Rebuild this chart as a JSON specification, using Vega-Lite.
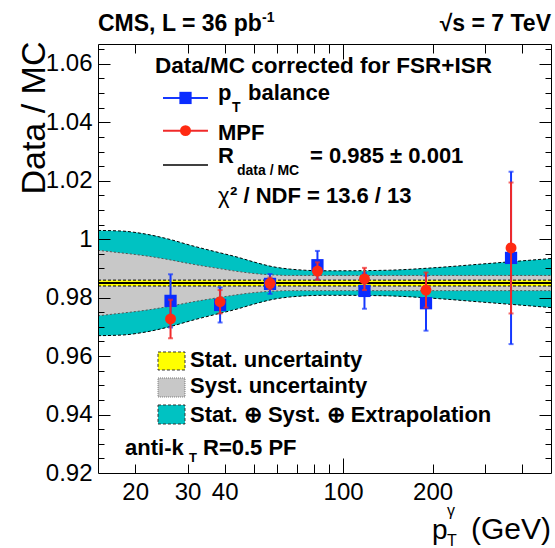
{
  "$schema": "https://vega.github.io/schema/vega-lite/v6.json",
  "width": 453,
  "height": 429,
  "autosize": {"type": "none"},
  "padding": {"left": 98, "top": 44, "right": 4, "bottom": 75},
  "background": "white",
  "config": {"view": {"stroke": null}, "font": "Liberation Sans"},
  "datasets": {
    "bands": [
      {"pt": 15, "tot_lo": 0.9670, "tot_hi": 1.0030, "syst_lo": 0.9738, "syst_hi": 0.9962, "stat_lo": 0.984, "stat_hi": 0.986, "fit": 0.985},
      {"pt": 18, "tot_lo": 0.9672, "tot_hi": 1.0028, "syst_lo": 0.9747, "syst_hi": 0.9953, "stat_lo": 0.984, "stat_hi": 0.986, "fit": 0.985},
      {"pt": 21, "tot_lo": 0.9680, "tot_hi": 1.0020, "syst_lo": 0.9755, "syst_hi": 0.9945, "stat_lo": 0.984, "stat_hi": 0.986, "fit": 0.985},
      {"pt": 26, "tot_lo": 0.9700, "tot_hi": 1.0000, "syst_lo": 0.9770, "syst_hi": 0.9930, "stat_lo": 0.984, "stat_hi": 0.986, "fit": 0.985},
      {"pt": 31, "tot_lo": 0.9722, "tot_hi": 0.9978, "syst_lo": 0.9785, "syst_hi": 0.9915, "stat_lo": 0.984, "stat_hi": 0.986, "fit": 0.985},
      {"pt": 37, "tot_lo": 0.9742, "tot_hi": 0.9958, "syst_lo": 0.9798, "syst_hi": 0.9902, "stat_lo": 0.984, "stat_hi": 0.986, "fit": 0.985},
      {"pt": 44, "tot_lo": 0.9761, "tot_hi": 0.9939, "syst_lo": 0.9810, "syst_hi": 0.9890, "stat_lo": 0.984, "stat_hi": 0.986, "fit": 0.985},
      {"pt": 51, "tot_lo": 0.9780, "tot_hi": 0.9920, "syst_lo": 0.9818, "syst_hi": 0.9882, "stat_lo": 0.984, "stat_hi": 0.986, "fit": 0.985},
      {"pt": 58, "tot_lo": 0.9794, "tot_hi": 0.9906, "syst_lo": 0.9822, "syst_hi": 0.9878, "stat_lo": 0.984, "stat_hi": 0.986, "fit": 0.985},
      {"pt": 66, "tot_lo": 0.9802, "tot_hi": 0.9898, "syst_lo": 0.9824, "syst_hi": 0.9876, "stat_lo": 0.984, "stat_hi": 0.986, "fit": 0.985},
      {"pt": 74, "tot_lo": 0.9806, "tot_hi": 0.9894, "syst_lo": 0.9824, "syst_hi": 0.9876, "stat_lo": 0.984, "stat_hi": 0.986, "fit": 0.985},
      {"pt": 86, "tot_lo": 0.9808, "tot_hi": 0.9892, "syst_lo": 0.9824, "syst_hi": 0.9876, "stat_lo": 0.984, "stat_hi": 0.986, "fit": 0.985},
      {"pt": 100, "tot_lo": 0.9808, "tot_hi": 0.9892, "syst_lo": 0.9824, "syst_hi": 0.9876, "stat_lo": 0.984, "stat_hi": 0.986, "fit": 0.985},
      {"pt": 143, "tot_lo": 0.9806, "tot_hi": 0.9894, "syst_lo": 0.9824, "syst_hi": 0.9876, "stat_lo": 0.984, "stat_hi": 0.986, "fit": 0.985},
      {"pt": 200, "tot_lo": 0.9798, "tot_hi": 0.9902, "syst_lo": 0.9824, "syst_hi": 0.9876, "stat_lo": 0.984, "stat_hi": 0.986, "fit": 0.985},
      {"pt": 300, "tot_lo": 0.9784, "tot_hi": 0.9916, "syst_lo": 0.9824, "syst_hi": 0.9876, "stat_lo": 0.984, "stat_hi": 0.986, "fit": 0.985},
      {"pt": 400, "tot_lo": 0.9774, "tot_hi": 0.9926, "syst_lo": 0.9824, "syst_hi": 0.9876, "stat_lo": 0.984, "stat_hi": 0.986, "fit": 0.985},
      {"pt": 500, "tot_lo": 0.9766, "tot_hi": 0.9934, "syst_lo": 0.9824, "syst_hi": 0.9876, "stat_lo": 0.984, "stat_hi": 0.986, "fit": 0.985}
    ],
    "points": [
      {"pt": 26.3, "method": "pT balance", "r": 0.9789, "lo": 0.9698, "hi": 0.9880},
      {"pt": 38.6, "method": "pT balance", "r": 0.9775, "lo": 0.9715, "hi": 0.9835},
      {"pt": 56.8, "method": "pT balance", "r": 0.9847, "lo": 0.9813, "hi": 0.9881},
      {"pt": 82, "method": "pT balance", "r": 0.9911, "lo": 0.9862, "hi": 0.9960},
      {"pt": 118, "method": "pT balance", "r": 0.9823, "lo": 0.9762, "hi": 0.9884},
      {"pt": 190, "method": "pT balance", "r": 0.9781, "lo": 0.9687, "hi": 0.9875},
      {"pt": 367, "method": "pT balance", "r": 0.9936, "lo": 0.9641, "hi": 1.0231},
      {"pt": 26.3, "method": "MPF", "r": 0.9727, "lo": 0.9661, "hi": 0.9793},
      {"pt": 38.6, "method": "MPF", "r": 0.9786, "lo": 0.9746, "hi": 0.9826},
      {"pt": 56.8, "method": "MPF", "r": 0.9849, "lo": 0.9829, "hi": 0.9869},
      {"pt": 82, "method": "MPF", "r": 0.9891, "lo": 0.9861, "hi": 0.9921},
      {"pt": 118, "method": "MPF", "r": 0.9864, "lo": 0.9826, "hi": 0.9902},
      {"pt": 190, "method": "MPF", "r": 0.9826, "lo": 0.9766, "hi": 0.9886},
      {"pt": 367, "method": "MPF", "r": 0.9970, "lo": 0.9746, "hi": 1.0194}
    ]
  },
  "resolve": {"axis": {"x": "independent", "y": "independent"}},
  "layer": [
    {
      "data": {"name": "bands"},
      "mark": {"type": "area", "color": "#00c2c2", "interpolate": "monotone"},
      "encoding": {
        "x": {"field": "pt", "type": "quantitative", "scale": {"type": "log", "domain": [15, 500], "nice": false},
          "axis": {"orient": "bottom", "values": [20, 30, 40, 50, 60, 70, 80, 90, 200, 300, 400], "labels": false, "tickSize": -9, "tickColor": "black", "tickWidth": 1, "domain": true, "domainColor": "black", "domainWidth": 1, "grid": false, "title": null, "zindex": 1}},
        "y": {"field": "tot_lo", "type": "quantitative", "scale": {"domain": [0.92, 1.0668], "nice": false, "zero": false},
          "axis": {"orient": "left", "values": [0.925, 0.93, 0.935, 0.945, 0.95, 0.955, 0.965, 0.97, 0.975, 0.985, 0.99, 0.995, 1.005, 1.01, 1.015, 1.025, 1.03, 1.035, 1.045, 1.05, 1.055, 1.065], "labels": false, "tickSize": -6, "tickColor": "black", "tickWidth": 1, "domain": true, "domainColor": "black", "domainWidth": 1, "grid": false, "title": null, "zindex": 1}},
        "y2": {"field": "tot_hi"}
      }
    },
    {
      "data": {"name": "bands"},
      "mark": {"type": "area", "color": "#c8c8c8", "interpolate": "monotone"},
      "encoding": {
        "x": {"field": "pt", "type": "quantitative", "scale": {"type": "log", "domain": [15, 500], "nice": false},
          "axis": {"orient": "top", "values": [20, 30, 40, 50, 60, 70, 80, 90, 200, 300, 400], "labels": false, "tickSize": -9, "tickColor": "black", "tickWidth": 1, "domain": true, "domainColor": "black", "domainWidth": 1, "grid": false, "title": null, "zindex": 1}},
        "y": {"field": "syst_lo", "type": "quantitative", "scale": {"domain": [0.92, 1.0668], "nice": false, "zero": false},
          "axis": {"orient": "right", "values": [0.925, 0.93, 0.935, 0.945, 0.95, 0.955, 0.965, 0.97, 0.975, 0.985, 0.99, 0.995, 1.005, 1.01, 1.015, 1.025, 1.03, 1.035, 1.045, 1.05, 1.055, 1.065], "labels": false, "tickSize": -6, "tickColor": "black", "tickWidth": 1, "domain": true, "domainColor": "black", "domainWidth": 1, "grid": false, "title": null, "zindex": 1}},
        "y2": {"field": "syst_hi"}
      }
    },
    {
      "data": {"name": "bands"},
      "mark": {"type": "area", "color": "#ffff00"},
      "encoding": {
        "x": {"field": "pt", "type": "quantitative", "scale": {"type": "log", "domain": [15, 500], "nice": false},
          "axis": {"orient": "bottom", "values": [100], "labels": false, "tickSize": -15, "tickColor": "black", "tickWidth": 1, "domain": false, "grid": false, "title": null, "zindex": 1}},
        "y": {"field": "stat_lo", "type": "quantitative", "scale": {"domain": [0.92, 1.0668], "nice": false, "zero": false},
          "axis": {"orient": "left", "values": [0.94, 0.96, 0.98, 1.0, 1.02, 1.04, 1.06], "labels": false, "tickSize": -12, "tickColor": "black", "tickWidth": 1, "domain": false, "grid": false, "title": null, "zindex": 1}},
        "y2": {"field": "stat_hi"}
      }
    },
    {
      "data": {"name": "bands"},
      "mark": {"type": "line", "color": "black", "strokeWidth": 2},
      "encoding": {
        "x": {"field": "pt", "type": "quantitative", "scale": {"type": "log", "domain": [15, 500], "nice": false},
          "axis": {"orient": "top", "values": [100], "labels": false, "tickSize": -15, "tickColor": "black", "tickWidth": 1, "domain": false, "grid": false, "title": null, "zindex": 1}},
        "y": {"field": "fit", "type": "quantitative", "scale": {"domain": [0.92, 1.0668], "nice": false, "zero": false},
          "axis": {"orient": "right", "values": [0.94, 0.96, 0.98, 1.0, 1.02, 1.04, 1.06], "labels": false, "tickSize": -12, "tickColor": "black", "tickWidth": 1, "domain": false, "grid": false, "title": null, "zindex": 1}}
      }
    },
    {
      "data": {"name": "bands"},
      "mark": {"type": "line", "color": "black", "strokeWidth": 1, "strokeDash": [3, 2], "interpolate": "monotone"},
      "encoding": {
        "x": {"field": "pt", "type": "quantitative", "scale": {"type": "log", "domain": [15, 500], "nice": false}, "axis": null},
        "y": {"field": "tot_lo", "type": "quantitative", "scale": {"domain": [0.92, 1.0668], "nice": false, "zero": false}, "axis": null}
      }
    },
    {
      "data": {"name": "bands"},
      "mark": {"type": "line", "color": "black", "strokeWidth": 1, "strokeDash": [3, 2], "interpolate": "monotone"},
      "encoding": {
        "x": {"field": "pt", "type": "quantitative", "scale": {"type": "log", "domain": [15, 500], "nice": false}, "axis": null},
        "y": {"field": "tot_hi", "type": "quantitative", "scale": {"domain": [0.92, 1.0668], "nice": false, "zero": false}, "axis": null}
      }
    },
    {
      "data": {"name": "bands"},
      "mark": {"type": "line", "color": "#555555", "strokeWidth": 1, "strokeDash": [2, 2], "interpolate": "monotone"},
      "encoding": {
        "x": {"field": "pt", "type": "quantitative", "scale": {"type": "log", "domain": [15, 500], "nice": false}, "axis": null},
        "y": {"field": "syst_lo", "type": "quantitative", "scale": {"domain": [0.92, 1.0668], "nice": false, "zero": false}, "axis": null}
      }
    },
    {
      "data": {"name": "bands"},
      "mark": {"type": "line", "color": "#555555", "strokeWidth": 1, "strokeDash": [2, 2], "interpolate": "monotone"},
      "encoding": {
        "x": {"field": "pt", "type": "quantitative", "scale": {"type": "log", "domain": [15, 500], "nice": false}, "axis": null},
        "y": {"field": "syst_hi", "type": "quantitative", "scale": {"domain": [0.92, 1.0668], "nice": false, "zero": false}, "axis": null}
      }
    },
    {
      "data": {"name": "bands"},
      "mark": {"type": "line", "color": "black", "strokeWidth": 1, "strokeDash": [3, 2]},
      "encoding": {
        "x": {"field": "pt", "type": "quantitative", "scale": {"type": "log", "domain": [15, 500], "nice": false}, "axis": null},
        "y": {"field": "stat_lo", "type": "quantitative", "scale": {"domain": [0.92, 1.0668], "nice": false, "zero": false}, "axis": null}
      }
    },
    {
      "data": {"name": "bands"},
      "mark": {"type": "line", "color": "black", "strokeWidth": 1, "strokeDash": [3, 2]},
      "encoding": {
        "x": {"field": "pt", "type": "quantitative", "scale": {"type": "log", "domain": [15, 500], "nice": false}, "axis": null},
        "y": {"field": "stat_hi", "type": "quantitative", "scale": {"domain": [0.92, 1.0668], "nice": false, "zero": false}, "axis": null}
      }
    },
    {
      "data": {"name": "points"},
      "transform": [{"filter": "datum.method === 'pT balance'"}],
      "mark": {"type": "errorbar", "color": "#1538ff", "thickness": 2, "ticks": {"size": 5, "thickness": 2}},
      "encoding": {
        "x": {"field": "pt", "type": "quantitative", "scale": {"type": "log", "domain": [15, 500], "nice": false}, "axis": null},
        "y": {"field": "lo", "type": "quantitative", "scale": {"domain": [0.92, 1.0668], "nice": false, "zero": false}, "axis": null},
        "y2": {"field": "hi"}
      }
    },
    {
      "data": {"name": "points"},
      "transform": [{"filter": "datum.method === 'pT balance'"}],
      "mark": {"type": "square", "color": "#0a2cff", "filled": true, "size": 150, "opacity": 1},
      "encoding": {
        "x": {"field": "pt", "type": "quantitative", "scale": {"type": "log", "domain": [15, 500], "nice": false},
          "axis": {"orient": "bottom", "values": [20, 30, 40, 100, 200], "ticks": false, "tickSize": 0, "domain": false, "grid": false, "labels": true, "labelFont": "Liberation Sans", "labelFontSize": 24, "labelColor": "black", "labelPadding": 7, "labelFlush": false, "labelOverlap": false, "title": null}},
        "y": {"field": "r", "type": "quantitative", "scale": {"domain": [0.92, 1.0668], "nice": false, "zero": false},
          "axis": {"orient": "left", "values": [0.92, 0.94, 0.96, 0.98, 1.0, 1.02, 1.04, 1.06], "ticks": false, "tickSize": 0, "domain": false, "grid": false, "labels": true, "labelExpr": "abs(datum.value - 1) < 0.0001 ? '1' : format(datum.value, '.2f')", "labelFont": "Liberation Sans", "labelFontSize": 24, "labelColor": "black", "labelPadding": 6, "labelFlush": false, "labelOverlap": false,
            "title": "Data / MC", "titleFont": "Liberation Sans", "titleFontSize": 34, "titleFontWeight": "normal", "titleColor": "black", "titleAngle": -90, "titleAlign": "right", "titleBaseline": "alphabetic", "titleX": -54, "titleY": -3}}
      }
    },
    {
      "data": {"name": "points"},
      "transform": [{"filter": "datum.method === 'MPF'"}],
      "mark": {"type": "errorbar", "color": "#f02a2a", "thickness": 2, "ticks": {"size": 5, "thickness": 2}},
      "encoding": {
        "x": {"field": "pt", "type": "quantitative", "scale": {"type": "log", "domain": [15, 500], "nice": false}, "axis": null},
        "y": {"field": "lo", "type": "quantitative", "scale": {"domain": [0.92, 1.0668], "nice": false, "zero": false}, "axis": null},
        "y2": {"field": "hi"}
      }
    },
    {
      "data": {"name": "points"},
      "transform": [{"filter": "datum.method === 'MPF'"}],
      "mark": {"type": "circle", "color": "#ff2a12", "size": 120, "opacity": 1},
      "encoding": {
        "x": {"field": "pt", "type": "quantitative", "scale": {"type": "log", "domain": [15, 500], "nice": false}, "axis": null},
        "y": {"field": "r", "type": "quantitative", "scale": {"domain": [0.92, 1.0668], "nice": false, "zero": false}, "axis": null}
      }
    },
    {
      "data": {"values": [{}]},
      "mark": {"type": "rule", "color": "#1538ff", "strokeWidth": 2},
      "encoding": {
        "x": {"datum": 24.81, "type": "quantitative", "scale": {"type": "log", "domain": [15, 500], "nice": false}, "axis": null},
        "x2": {"datum": 35.14},
        "y": {"datum": 1.04834, "type": "quantitative", "scale": {"domain": [0.92, 1.0668], "nice": false, "zero": false}, "axis": null}
      }
    },
    {
      "data": {"values": [{}]},
      "mark": {"type": "square", "color": "#0a2cff", "filled": true, "size": 150, "opacity": 1},
      "encoding": {
        "x": {"datum": 29.53, "type": "quantitative", "scale": {"type": "log", "domain": [15, 500], "nice": false}, "axis": null},
        "y": {"datum": 1.04834, "type": "quantitative", "scale": {"domain": [0.92, 1.0668], "nice": false, "zero": false}, "axis": null}
      }
    },
    {
      "data": {"values": [{}]},
      "mark": {"type": "rule", "color": "#f02a2a", "strokeWidth": 2},
      "encoding": {
        "x": {"datum": 24.81, "type": "quantitative", "scale": {"type": "log", "domain": [15, 500], "nice": false}, "axis": null},
        "x2": {"datum": 35.14},
        "y": {"datum": 1.03715, "type": "quantitative", "scale": {"domain": [0.92, 1.0668], "nice": false, "zero": false}, "axis": null}
      }
    },
    {
      "data": {"values": [{}]},
      "mark": {"type": "circle", "color": "#ff2a12", "size": 120, "opacity": 1},
      "encoding": {
        "x": {"datum": 29.53, "type": "quantitative", "scale": {"type": "log", "domain": [15, 500], "nice": false}, "axis": null},
        "y": {"datum": 1.03715, "type": "quantitative", "scale": {"domain": [0.92, 1.0668], "nice": false, "zero": false}, "axis": null}
      }
    },
    {
      "data": {"values": [{}]},
      "mark": {"type": "rule", "color": "black", "strokeWidth": 1.5},
      "encoding": {
        "x": {"datum": 24.81, "type": "quantitative", "scale": {"type": "log", "domain": [15, 500], "nice": false}, "axis": null},
        "x2": {"datum": 35.14},
        "y": {"datum": 1.02541, "type": "quantitative", "scale": {"domain": [0.92, 1.0668], "nice": false, "zero": false}, "axis": null}
      }
    },
    {
      "data": {"values": [{}]},
      "mark": {"type": "rect", "fill": "#ffff00", "stroke": "#333333", "strokeWidth": 1, "strokeDash": [3, 2]},
      "encoding": {
        "x": {"datum": 23.87, "type": "quantitative", "scale": {"type": "log", "domain": [15, 500], "nice": false}, "axis": null},
        "x2": {"datum": 29.41},
        "y": {"datum": 0.96141, "type": "quantitative", "scale": {"domain": [0.92, 1.0668], "nice": false, "zero": false}, "axis": null},
        "y2": {"datum": 0.95525}
      }
    },
    {
      "data": {"values": [{}]},
      "mark": {"type": "rect", "fill": "#c8c8c8", "stroke": "#777777", "strokeWidth": 1, "strokeDash": [1, 1]},
      "encoding": {
        "x": {"datum": 23.87, "type": "quantitative", "scale": {"type": "log", "domain": [15, 500], "nice": false}, "axis": null},
        "x2": {"datum": 29.41},
        "y": {"datum": 0.95251, "type": "quantitative", "scale": {"domain": [0.92, 1.0668], "nice": false, "zero": false}, "axis": null},
        "y2": {"datum": 0.94601}
      }
    },
    {
      "data": {"values": [{}]},
      "mark": {"type": "rect", "fill": "#00c2c2", "stroke": "#333333", "strokeWidth": 1, "strokeDash": [3, 2]},
      "encoding": {
        "x": {"datum": 23.87, "type": "quantitative", "scale": {"type": "log", "domain": [15, 500], "nice": false}, "axis": null},
        "x2": {"datum": 29.41},
        "y": {"datum": 0.94327, "type": "quantitative", "scale": {"domain": [0.92, 1.0668], "nice": false, "zero": false}, "axis": null},
        "y2": {"datum": 0.93677}
      }
    },
    {
      "data": {"values": [{}]},
      "mark": {"type": "text", "text": "CMS, L = 36 pb", "align": "left", "baseline": "alphabetic", "font": "Liberation Sans", "fontSize": 23, "fontWeight": "bold", "color": "black"},
      "encoding": {
        "x": {"datum": 15, "type": "quantitative", "scale": {"type": "log", "domain": [15, 500], "nice": false}, "axis": null},
        "y": {"datum": 1.07127, "type": "quantitative", "scale": {"domain": [0.92, 1.0668], "nice": false, "zero": false}, "axis": null}
      }
    },
    {
      "data": {"values": [{}]},
      "mark": {"type": "text", "text": "-1", "align": "left", "baseline": "alphabetic", "font": "Liberation Sans", "fontSize": 14, "fontWeight": "bold", "color": "black"},
      "encoding": {
        "x": {"datum": 53.4, "type": "quantitative", "scale": {"type": "log", "domain": [15, 500], "nice": false}, "axis": null},
        "y": {"datum": 1.07435, "type": "quantitative", "scale": {"domain": [0.92, 1.0668], "nice": false, "zero": false}, "axis": null}
      }
    },
    {
      "data": {"values": [{}]},
      "mark": {"type": "text", "text": "√s = 7 TeV", "align": "right", "baseline": "alphabetic", "font": "Liberation Sans", "fontSize": 23, "fontWeight": "bold", "color": "black"},
      "encoding": {
        "x": {"datum": 500, "type": "quantitative", "scale": {"type": "log", "domain": [15, 500], "nice": false}, "axis": null},
        "y": {"datum": 1.07127, "type": "quantitative", "scale": {"domain": [0.92, 1.0668], "nice": false, "zero": false}, "axis": null}
      }
    },
    {
      "data": {"values": [{}]},
      "mark": {"type": "text", "text": "Data/MC corrected for FSR+ISR", "align": "left", "baseline": "alphabetic", "font": "Liberation Sans", "fontSize": 22.5, "fontWeight": "bold", "color": "black"},
      "encoding": {
        "x": {"datum": 23.32, "type": "quantitative", "scale": {"type": "log", "domain": [15, 500], "nice": false}, "axis": null},
        "y": {"datum": 1.05689, "type": "quantitative", "scale": {"domain": [0.92, 1.0668], "nice": false, "zero": false}, "axis": null}
      }
    },
    {
      "data": {"values": [{}]},
      "mark": {"type": "text", "text": "p", "align": "left", "baseline": "alphabetic", "font": "Liberation Sans", "fontSize": 22, "fontWeight": "bold", "color": "black"},
      "encoding": {
        "x": {"datum": 37.97, "type": "quantitative", "scale": {"type": "log", "domain": [15, 500], "nice": false}, "axis": null},
        "y": {"datum": 1.04765, "type": "quantitative", "scale": {"domain": [0.92, 1.0668], "nice": false, "zero": false}, "axis": null}
      }
    },
    {
      "data": {"values": [{}]},
      "mark": {"type": "text", "text": "T", "align": "left", "baseline": "alphabetic", "font": "Liberation Sans", "fontSize": 14, "fontWeight": "bold", "color": "black"},
      "encoding": {
        "x": {"datum": 42.31, "type": "quantitative", "scale": {"type": "log", "domain": [15, 500], "nice": false}, "axis": null},
        "y": {"datum": 1.04365, "type": "quantitative", "scale": {"domain": [0.92, 1.0668], "nice": false, "zero": false}, "axis": null}
      }
    },
    {
      "data": {"values": [{}]},
      "mark": {"type": "text", "text": "balance", "align": "left", "baseline": "alphabetic", "font": "Liberation Sans", "fontSize": 22, "fontWeight": "bold", "color": "black"},
      "encoding": {
        "x": {"datum": 47.89, "type": "quantitative", "scale": {"type": "log", "domain": [15, 500], "nice": false}, "axis": null},
        "y": {"datum": 1.04765, "type": "quantitative", "scale": {"domain": [0.92, 1.0668], "nice": false, "zero": false}, "axis": null}
      }
    },
    {
      "data": {"values": [{}]},
      "mark": {"type": "text", "text": "MPF", "align": "left", "baseline": "alphabetic", "font": "Liberation Sans", "fontSize": 22, "fontWeight": "bold", "color": "black"},
      "encoding": {
        "x": {"datum": 37.97, "type": "quantitative", "scale": {"type": "log", "domain": [15, 500], "nice": false}, "axis": null},
        "y": {"datum": 1.03396, "type": "quantitative", "scale": {"domain": [0.92, 1.0668], "nice": false, "zero": false}, "axis": null}
      }
    },
    {
      "data": {"values": [{}]},
      "mark": {"type": "text", "text": "R", "align": "left", "baseline": "alphabetic", "font": "Liberation Sans", "fontSize": 22, "fontWeight": "bold", "color": "black"},
      "encoding": {
        "x": {"datum": 37.97, "type": "quantitative", "scale": {"type": "log", "domain": [15, 500], "nice": false}, "axis": null},
        "y": {"datum": 1.02599, "type": "quantitative", "scale": {"domain": [0.92, 1.0668], "nice": false, "zero": false}, "axis": null}
      }
    },
    {
      "data": {"values": [{}]},
      "mark": {"type": "text", "text": "data / MC", "align": "left", "baseline": "alphabetic", "font": "Liberation Sans", "fontSize": 14, "fontWeight": "bold", "color": "black"},
      "encoding": {
        "x": {"datum": 43.98, "type": "quantitative", "scale": {"type": "log", "domain": [15, 500], "nice": false}, "axis": null},
        "y": {"datum": 1.02198, "type": "quantitative", "scale": {"domain": [0.92, 1.0668], "nice": false, "zero": false}, "axis": null}
      }
    },
    {
      "data": {"values": [{}]},
      "mark": {"type": "text", "text": "= 0.985 ± 0.001", "align": "left", "baseline": "alphabetic", "font": "Liberation Sans", "fontSize": 22, "fontWeight": "bold", "color": "black"},
      "encoding": {
        "x": {"datum": 77.4, "type": "quantitative", "scale": {"type": "log", "domain": [15, 500], "nice": false}, "axis": null},
        "y": {"datum": 1.02599, "type": "quantitative", "scale": {"domain": [0.92, 1.0668], "nice": false, "zero": false}, "axis": null}
      }
    },
    {
      "data": {"values": [{}]},
      "mark": {"type": "text", "text": "χ", "align": "left", "baseline": "alphabetic", "font": "Liberation Sans", "fontSize": 22, "fontWeight": "normal", "color": "black"},
      "encoding": {
        "x": {"datum": 37.97, "type": "quantitative", "scale": {"type": "log", "domain": [15, 500], "nice": false}, "axis": null},
        "y": {"datum": 1.0123, "type": "quantitative", "scale": {"domain": [0.92, 1.0668], "nice": false, "zero": false}, "axis": null}
      }
    },
    {
      "data": {"values": [{}]},
      "mark": {"type": "text", "text": "² / NDF = 13.6 / 13", "align": "left", "baseline": "alphabetic", "font": "Liberation Sans", "fontSize": 22, "fontWeight": "bold", "color": "black"},
      "encoding": {
        "x": {"datum": 41.67, "type": "quantitative", "scale": {"type": "log", "domain": [15, 500], "nice": false}, "axis": null},
        "y": {"datum": 1.0123, "type": "quantitative", "scale": {"domain": [0.92, 1.0668], "nice": false, "zero": false}, "axis": null}
      }
    },
    {
      "data": {"values": [{}]},
      "mark": {"type": "text", "text": "Stat. uncertainty", "align": "left", "baseline": "alphabetic", "font": "Liberation Sans", "fontSize": 22, "fontWeight": "bold", "color": "black"},
      "encoding": {
        "x": {"datum": 30.57, "type": "quantitative", "scale": {"type": "log", "domain": [15, 500], "nice": false}, "axis": null},
        "y": {"datum": 0.95638, "type": "quantitative", "scale": {"domain": [0.92, 1.0668], "nice": false, "zero": false}, "axis": null}
      }
    },
    {
      "data": {"values": [{}]},
      "mark": {"type": "text", "text": "Syst. uncertainty", "align": "left", "baseline": "alphabetic", "font": "Liberation Sans", "fontSize": 22, "fontWeight": "bold", "color": "black"},
      "encoding": {
        "x": {"datum": 30.57, "type": "quantitative", "scale": {"type": "log", "domain": [15, 500], "nice": false}, "axis": null},
        "y": {"datum": 0.94728, "type": "quantitative", "scale": {"domain": [0.92, 1.0668], "nice": false, "zero": false}, "axis": null}
      }
    },
    {
      "data": {"values": [{}]},
      "mark": {"type": "text", "text": "Stat. ⊕ Syst. ⊕ Extrapolation", "align": "left", "baseline": "alphabetic", "font": "Liberation Sans", "fontSize": 22, "fontWeight": "bold", "color": "black"},
      "encoding": {
        "x": {"datum": 30.57, "type": "quantitative", "scale": {"type": "log", "domain": [15, 500], "nice": false}, "axis": null},
        "y": {"datum": 0.93756, "type": "quantitative", "scale": {"domain": [0.92, 1.0668], "nice": false, "zero": false}, "axis": null}
      }
    },
    {
      "data": {"values": [{}]},
      "mark": {"type": "text", "text": "anti-k", "align": "left", "baseline": "alphabetic", "font": "Liberation Sans", "fontSize": 22, "fontWeight": "bold", "color": "black"},
      "encoding": {
        "x": {"datum": 18.49, "type": "quantitative", "scale": {"type": "log", "domain": [15, 500], "nice": false}, "axis": null},
        "y": {"datum": 0.92616, "type": "quantitative", "scale": {"domain": [0.92, 1.0668], "nice": false, "zero": false}, "axis": null}
      }
    },
    {
      "data": {"values": [{}]},
      "mark": {"type": "text", "text": "T", "align": "left", "baseline": "alphabetic", "font": "Liberation Sans", "fontSize": 13, "fontWeight": "bold", "color": "black"},
      "encoding": {
        "x": {"datum": 30.34, "type": "quantitative", "scale": {"type": "log", "domain": [15, 500], "nice": false}, "axis": null},
        "y": {"datum": 0.92387, "type": "quantitative", "scale": {"domain": [0.92, 1.0668], "nice": false, "zero": false}, "axis": null}
      }
    },
    {
      "data": {"values": [{}]},
      "mark": {"type": "text", "text": "R=0.5 PF", "align": "left", "baseline": "alphabetic", "font": "Liberation Sans", "fontSize": 22, "fontWeight": "bold", "color": "black"},
      "encoding": {
        "x": {"datum": 33.81, "type": "quantitative", "scale": {"type": "log", "domain": [15, 500], "nice": false}, "axis": null},
        "y": {"datum": 0.92616, "type": "quantitative", "scale": {"domain": [0.92, 1.0668], "nice": false, "zero": false}, "axis": null}
      }
    },
    {
      "data": {"values": [{}]},
      "mark": {"type": "text", "text": "p", "align": "left", "baseline": "alphabetic", "font": "Liberation Sans", "fontSize": 28, "fontWeight": "normal", "color": "black"},
      "encoding": {
        "x": {"datum": 198.9, "type": "quantitative", "scale": {"type": "log", "domain": [15, 500], "nice": false}, "axis": null},
        "y": {"datum": 0.89741, "type": "quantitative", "scale": {"domain": [0.92, 1.0668], "nice": false, "zero": false}, "axis": null}
      }
    },
    {
      "data": {"values": [{}]},
      "mark": {"type": "text", "text": "T", "align": "left", "baseline": "alphabetic", "font": "Liberation Sans", "fontSize": 16, "fontWeight": "normal", "color": "black"},
      "encoding": {
        "x": {"datum": 223.4, "type": "quantitative", "scale": {"type": "log", "domain": [15, 500], "nice": false}, "axis": null},
        "y": {"datum": 0.89502, "type": "quantitative", "scale": {"domain": [0.92, 1.0668], "nice": false, "zero": false}, "axis": null}
      }
    },
    {
      "data": {"values": [{}]},
      "mark": {"type": "text", "text": "γ", "align": "left", "baseline": "alphabetic", "font": "Liberation Sans", "fontSize": 16, "fontWeight": "normal", "color": "black"},
      "encoding": {
        "x": {"datum": 223.4, "type": "quantitative", "scale": {"type": "log", "domain": [15, 500], "nice": false}, "axis": null},
        "y": {"datum": 0.90528, "type": "quantitative", "scale": {"domain": [0.92, 1.0668], "nice": false, "zero": false}, "axis": null}
      }
    },
    {
      "data": {"values": [{}]},
      "mark": {"type": "text", "text": "(GeV)", "align": "right", "baseline": "alphabetic", "font": "Liberation Sans", "fontSize": 30, "fontWeight": "normal", "color": "black"},
      "encoding": {
        "x": {"datum": 500, "type": "quantitative", "scale": {"type": "log", "domain": [15, 500], "nice": false}, "axis": null},
        "y": {"datum": 0.89741, "type": "quantitative", "scale": {"domain": [0.92, 1.0668], "nice": false, "zero": false}, "axis": null}
      }
    }
  ]
}
